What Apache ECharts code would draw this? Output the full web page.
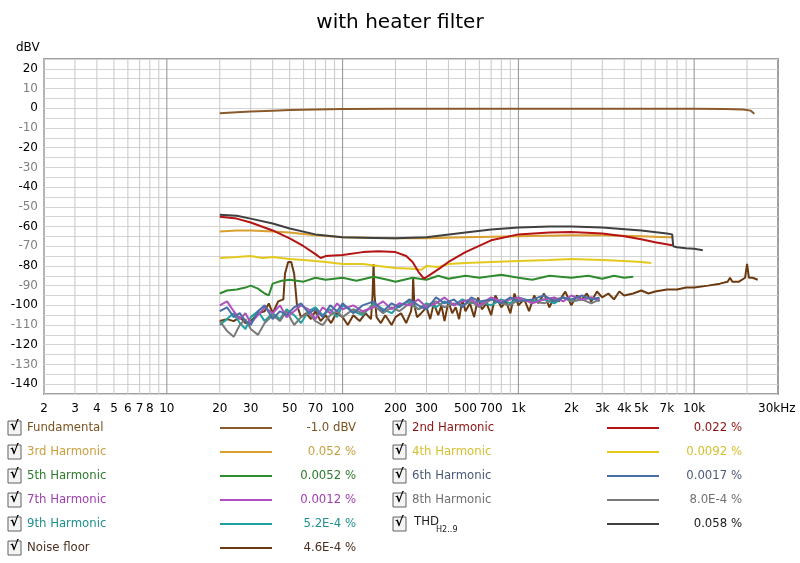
<!DOCTYPE html>
<html lang="en">
<head>
	<meta charset="UTF-8">
	<title>with heater filter</title>
	<script src="https://cdn.jsdelivr.net/npm/echarts@6/dist/echarts.min.js"></script>
</head>
<style>
	html,body{margin:0;padding:0;background:#fff;}
	#main{width:800px;height:563px;}
</style>
<body>
	<div id="main"></div>
	<script>
		// frequency ticks (Hz) and their labels
		var tickFreqs = [2,3,4,5,6,7,8,10,20,30,50,70,100,200,300,500,700,1000,2000,3000,4000,5000,7000,10000,30000];
		var tickLabels = ['2','3','4','5','6','7','8','10','20','30','50','70','100','200','300','500','700','1k','2k','3k','4k','5k','7k','10k','30kHz'];

		// measured curves: frequency (Hz) / level (dBV)
		var fundF  = [20,25,30,40,50,70,100,200,500,1000,2000,5000,10000,15000,19000,21000,22000];
		var fundDb = [-2.5,-2,-1.6,-1.2,-0.9,-0.6,-0.4,-0.3,-0.3,-0.3,-0.3,-0.3,-0.3,-0.4,-0.6,-1.2,-2.8];

		var h2F  = [20,25,30,40,50,60,70,75,80,100,130,160,200,230,250,270,290,320,360,400,500,700,1000,1500,2000,3000,4000,5000,6000,7500];
		var h2Db = [-55,-56,-58,-62,-66,-70,-74,-76,-75,-74.5,-73,-72.5,-73,-75,-78,-83,-86.5,-84,-81,-78,-73,-67,-64,-63,-62.8,-63.5,-65,-66.5,-68,-69.5];

		var h3F  = [20,25,30,40,50,70,100,200,300,500,1000,2000,3000,5000,7000,7500];
		var h3Db = [-62.5,-62,-62,-62.5,-63,-64.5,-65.5,-66,-66,-65.5,-65,-64.5,-64.5,-65,-65.5,-65.5];

		var h4F  = [20,25,30,35,40,50,60,70,80,100,130,160,200,250,280,300,350,400,500,700,1000,1500,2000,3000,4000,5000,5700];
		var h4Db = [-76,-75.5,-75,-76,-75.5,-76.5,-77,-77.5,-78,-79,-79,-80,-81,-81.5,-82,-80,-80.5,-79,-78.5,-78,-77.5,-77,-76.5,-77,-77.5,-78,-78.5];

		var h5F  = [20,22,25,28,30,33,36,38,40,45,50,60,70,80,100,120,150,180,200,250,300,350,400,500,600,800,1000,1200,1500,2000,2500,3000,3500,4000,4500];
		var h5Db = [-94,-92.5,-92,-91,-90,-91.5,-94,-95,-89,-87.5,-87,-88,-86,-87,-86,-87.5,-85.5,-87,-88,-86,-87,-85,-86.5,-85,-86,-84.5,-86,-87,-85,-86,-85,-86.5,-85,-86,-85.5];

		var lowF = [20,22,24,26,28,30,33,36,40,44,48,53,58,64,70,77,85,93,100,115,130,150,170,190,210,240,270,300,340,380,430,480,540,600,700,800,900,1000,1200,1400,1600,1800,2000,2300,2600,2900];
		var h6Db = [-103,-101,-106,-104,-108,-110,-103,-100,-107,-103,-105,-101,-99,-104,-102,-106,-100,-103,-99,-104,-100,-98,-103,-99,-101,-97,-100,-102,-96,-99,-97,-101,-96,-98,-97,-99,-96,-98,-97,-95,-98,-96,-97,-95,-97,-96];
		var h7Db = [-100,-98,-103,-107,-104,-109,-105,-101,-104,-100,-106,-103,-100,-102,-107,-101,-104,-99,-102,-100,-103,-101,-98,-102,-99,-100,-97,-101,-99,-96,-100,-98,-97,-100,-96,-98,-97,-96,-99,-97,-96,-98,-95,-97,-96,-97];
		var h8Db = [-108,-113,-116,-110,-107,-112,-115,-109,-105,-108,-103,-110,-106,-104,-108,-110,-105,-103,-106,-102,-104,-100,-104,-101,-103,-99,-102,-100,-98,-101,-99,-100,-98,-101,-97,-99,-100,-97,-98,-99,-97,-96,-98,-97,-99,-97];
		var h9Db = [-110,-107,-104,-109,-112,-106,-103,-108,-104,-107,-102,-105,-109,-103,-101,-105,-102,-106,-100,-103,-105,-99,-102,-104,-100,-98,-102,-99,-101,-98,-100,-97,-99,-98,-100,-97,-99,-96,-98,-97,-99,-96,-98,-97,-96,-98];

		var thdF  = [20,25,30,40,50,70,100,150,200,300,500,700,1000,1500,2000,3000,5000,7000,7500,7600,8000,9000,10000,11200];
		var thdDb = [-54,-54.5,-56,-58.5,-61,-64,-65.5,-65.8,-66,-65.5,-63,-61.5,-60.5,-60,-60,-60.5,-62,-63.5,-64,-70,-70.5,-71,-71.3,-72];

		var noiseF  = [20,22,24,26,28,30,33,36,38,40,43,46,47,49,51,53,55,58,62,66,70,75,80,86,92,100,107,115,125,135,145,148,150,152,156,165,175,190,200,215,230,245,250,252,256,265,280,300,315,330,350,365,380,400,420,440,460,480,500,530,560,590,620,660,700,740,800,850,900,950,1000,1080,1150,1230,1300,1400,1500,1600,1700,1850,2000,2150,2300,2450,2600,2800,3000,3250,3500,3750,4000,4500,5000,5500,6000,7000,8000,9000,10000,12000,14000,15500,16000,16500,18000,19500,20000,20500,21500,23000];
		var noiseDb = [-108,-107,-108,-106,-109,-108,-104,-103,-99,-104,-98,-97,-84,-78,-78,-84,-100,-106,-104,-107,-103,-108,-105,-109,-104,-106,-110,-105,-108,-104,-107,-95,-79,-95,-106,-109,-105,-110,-106,-104,-109,-103,-97,-86,-100,-106,-104,-101,-107,-99,-105,-100,-108,-98,-104,-101,-107,-97,-103,-99,-106,-96,-102,-99,-105,-95,-101,-98,-104,-94,-100,-97,-103,-95,-99,-94,-101,-96,-98,-93,-100,-95,-97,-94,-98,-93,-96,-94,-97,-93,-95,-94,-92.5,-94,-93,-92,-92,-91,-91,-90,-89,-88,-86,-88,-88,-86,-79,-86,-86,-87];

		var seriesDefs = [
			{name:'Fundamental',   f:fundF, db:fundDb, color:'#8b5a2b', text:'#7a5220', value:'-1.0 dBV'},
			{name:'2nd Harmonic',  f:h2F,   db:h2Db,   color:'#b41414', text:'#8b1010', value:'0.022 %'},
			{name:'3rd Harmonic',  f:h3F,   db:h3Db,   color:'#d9a030', text:'#c8a040', value:'0.052 %'},
			{name:'4th Harmonic',  f:h4F,   db:h4Db,   color:'#e3c81e', text:'#d4c030', value:'0.0092 %'},
			{name:'5th Harmonic',  f:h5F,   db:h5Db,   color:'#2e8b2e', text:'#2e7a2e', value:'0.0052 %'},
			{name:'6th Harmonic',  f:lowF,  db:h6Db,   color:'#4a6fa5', text:'#4a5a78', value:'0.0017 %'},
			{name:'7th Harmonic',  f:lowF,  db:h7Db,   color:'#b050c0', text:'#a040b0', value:'0.0012 %'},
			{name:'8th Harmonic',  f:lowF,  db:h8Db,   color:'#7a7a7a', text:'#707070', value:'8.0E-4 %'},
			{name:'9th Harmonic',  f:lowF,  db:h9Db,   color:'#20a0a0', text:'#209090', value:'5.2E-4 %'},
			{name:'THD',           f:thdF,  db:thdDb,  color:'#404040', text:'#202020', value:'0.058 %'},
			{name:'Noise floor',   f:noiseF,db:noiseDb,color:'#6b3a10', text:'#4a3020', value:'4.6E-4 %'}
		];
		// draw order: noise first so harmonics sit on top
		var drawOrder = [10,8,7,6,5,4,3,2,1,9,0];

		var lg = function(f){ return Math.log10(f); };
		var xMin = lg(2), xMax = lg(30000);

		// every vertical grid line frequency
		var gridFreqs = [];
		[1,10,100,1000,10000].forEach(function(d){
			for(var k = 1; k < 10; k++){
				var f = d*k;
				if(f >= 2 && f <= 30000) gridFreqs.push(f);
			}
		});

		var series = [];
		// vertical grid + bottom tick labels
		series.push({
			type:'custom', silent:true, clip:false, z:1,
			data: gridFreqs.map(function(f){ return [lg(f)]; }),
			renderItem:function(params, api){
				var x = api.value(0);
				var f = Math.round(Math.pow(10,x));
				var p1 = api.coord([x, 25]), p2 = api.coord([x, -145]);
				var decade = (f===10||f===100||f===1000||f===10000);
				var children = [];
				if(f !== 30000) children.push({type:'line', shape:{x1:p1[0],y1:p1[1],x2:p2[0],y2:p2[1]},
					style:{stroke: decade ? '#909090' : '#c8c8c8', lineWidth:1}});
				var idx = tickFreqs.indexOf(f);
				if(idx >= 0){
					children.push({type:'text', x: f===30000 ? p2[0]-20 : p2[0], y:p2[1]+9,
						style:{text:tickLabels[idx], fill:'#000', font:'12px "DejaVu Sans", sans-serif', align: f===30000 ? 'left':'center', verticalAlign:'top'}});
				}
				return {type:'group', children:children};
			}
		});
		drawOrder.forEach(function(i){
			var s = seriesDefs[i];
			series.push({
				type:'line', name:s.name, showSymbol:false, symbol:'none', z:3,
				lineStyle:{color:s.color, width:2}, itemStyle:{color:s.color},
				data: s.f.map(function(f, j){ return [lg(f), s.db[j]]; })
			});
		});

		// legend table
		var graphics = [];
		var legendRows = [[0,1],[2,3],[4,5],[6,7],[8,9],[10]];
		legendRows.forEach(function(row, r){
			var y = 428 + r*24;
			row.forEach(function(i, c){
				var s = seriesDefs[i];
				var bx = c ? 393 : 8, lx = c ? 607 : 220, vx = c ? 742 : 356;
				graphics.push({type:'rect', shape:{x:bx, y:y-7, width:13, height:14},
					style:{fill:'#f4f4f4', stroke:'#606060', lineWidth:1}});
				graphics.push({type:'text', x:bx+2, y:y-8,
					style:{text:'\u221A', fill:'#000', font:'bold 13px "DejaVu Sans"'}});
				var fnt = '13px "Liberation Sans Narrow", "DejaVu Sans Condensed", sans-serif';
				if(i === 9){
					graphics.push({type:'text', x:bx+21, y:y-9,
						style:{text:'THD', fill:s.text, font:fnt}});
					graphics.push({type:'text', x:bx+43, y:y+1,
						style:{text:'H2..9', fill:s.text, font:'9px "Liberation Sans Narrow", "DejaVu Sans Condensed", sans-serif'}});
				} else {
					graphics.push({type:'text', x:bx+19, y:y, style:{text:s.name, fill:s.text,
						font:fnt, verticalAlign:'middle'}});
				}
				graphics.push({type:'line', shape:{x1:lx, y1:y, x2:lx+52, y2:y}, style:{stroke:s.color, lineWidth:2}});
				graphics.push({type:'text', x:vx, y:y, style:{text:s.value, fill:s.text,
					font:fnt, align:'right', verticalAlign:'middle'}});
			});
		});
		graphics.push({type:'text', x:16, y:42, style:{text:'dBV', fill:'#000', font:'12px "DejaVu Sans", sans-serif'}});

		var myChart = echarts.init(document.getElementById('main'));
		myChart.setOption({
			animation:false,
			backgroundColor:'#fff',
			title:{text:'with heater filter', left:'center', top:8,
				textStyle:{fontSize:20, fontWeight:'normal', color:'#000', fontFamily:'DejaVu Sans'}},
			grid:{left:44, right:22, top:59, bottom:169, show:true, borderColor:'#a0a0a0', borderWidth:2, backgroundColor:'#fff'},
			xAxis:{type:'value', min:xMin, max:xMax, axisLabel:{show:false}, axisTick:{show:false},
				axisLine:{show:false}, splitLine:{show:false}},
			yAxis:{type:'value', min:-145, max:25, interval:5,
				axisLine:{show:false}, axisTick:{show:false},
				axisLabel:{fontSize:12, fontFamily:'DejaVu Sans', margin:6,
					formatter:function(v){ return (v % 10 === 0) ? String(v) : ''; },
					color:function(v){ return (Math.abs(v) % 20 === 10) ? '#808080' : '#000'; }},
				splitLine:{lineStyle:{color:'#d4d4d4', width:1}}},
			graphic:graphics,
			series:series
		});
	</script>
</body>
</html>
